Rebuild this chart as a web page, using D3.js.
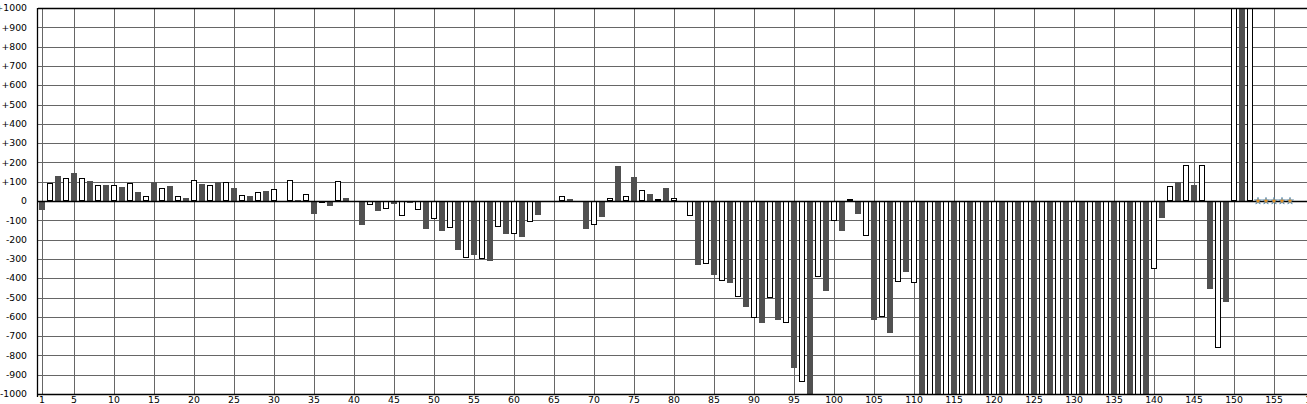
<!DOCTYPE html>
<html>
<head>
<meta charset="utf-8">
<script src="https://cdn.jsdelivr.net/npm/d3@7"></script>
<style>
  html, body { margin: 0; padding: 0; background: #fff; overflow: hidden; }
  svg { display: block; }
  text { font-family: "DejaVu Sans", Verdana, sans-serif; font-size: 9.3px; fill: #000; }
</style>
</head>
<body>
<svg id="chart" width="1307" height="404"></svg>
<script>
// ---- data ----
const values = [
  -45, 95, 131, 119, 147, 119, 104, 81, 83, 81,
  73, 93, 47, 24, 98, 66, 78, 24, 16, 107,
  88, 81, 98, 97, 67, 29, 26, 45, 52, 60,
  0, 107, 5, 35, -69, -11, -24, 102, 16, -5,
  -123, -22, -50, -43, -14, -79, -9, -48, -143, -95,
  -154, -142, -252, -297, -278, -302, -309, -136, -169, -173,
  -185, -111, -71, 0, -7, 24, 10, 4, -143, -126,
  -81, 14, 181, 24, 124, 55, 36, 9, 67, 14,
  0, -79, -330, -328, -382, -416, -423, -499, -547, -608,
  -630, -504, -615, -634, -864, -940, -1100, -394, -465, -105,
  -154, 9, -66, -183, -615, -603, -682, -421, -366, -427,
  -1100, -1100, -1100, -1100, -1100, -1100, -1100, -1100, -1100, -1100,
  -1100, -1100, -1100, -1100, -1100, -1100, -1100, -1100, -1100, -1100,
  -1100, -1100, -1100, -1100, -1100, -1100, -1100, -1100, -1100, -354,
  -86, 76, 97, 185, 81, 185, -454, -763, -522, 1100,
  1100, 1100
];
const categories = values.map((v, i) => i + 1);
const markerCats = [153, 154, 155, 156, 157];
const xTicks = [1, 5, 10, 15, 20, 25, 30, 35, 40, 45, 50, 55, 60, 65, 70, 75, 80,
  85, 90, 95, 100, 105, 110, 115, 120, 125, 130, 135, 140, 145, 150, 155, 160];
const yTicks = [1000, 900, 800, 700, 600, 500, 400, 300, 200, 100, 0,
  -100, -200, -300, -400, -500, -600, -700, -800, -900, -1000];
const yTickLabels = ["+1000", "+900", "+800", "+700", "+600", "+500", "+400", "+300", "+200", "+100", "0",
  "-100", "-200", "-300", "-400", "-500", "-600", "-700", "-800", "-900", "-1000"];

// ---- layout ----
const svg = d3.select("#chart");
const plotLeft = 38, plotTop = 8, plotBottom = 394, plotRight = 1318;

const x = d3.scaleLinear().domain([0.5, 160.5]).range([plotLeft, plotRight]);
const y = d3.scaleLinear().domain([-1000, 1000]).range([plotBottom, plotTop]);
const crisp = v => Math.round(v) + 0.5;

svg.append("defs").append("clipPath").attr("id", "plotClip")
  .append("rect")
  .attr("x", plotLeft).attr("y", plotTop)
  .attr("width", plotRight - plotLeft).attr("height", plotBottom - plotTop);

// grid
const grid = svg.append("g").attr("stroke", "#666").attr("stroke-width", 1);
grid.selectAll("line.h").data(yTicks).join("line")
  .attr("class", "h")
  .attr("x1", plotLeft).attr("x2", plotRight)
  .attr("y1", d => crisp(y(d))).attr("y2", d => crisp(y(d)));
grid.selectAll("line.v").data(xTicks).join("line")
  .attr("class", "v")
  .attr("y1", plotTop).attr("y2", plotBottom)
  .attr("x1", d => crisp(x(d))).attr("x2", d => crisp(x(d)));

// bars
const barW = 6;
const bars = svg.append("g").attr("clip-path", "url(#plotClip)");
const data = categories.map((c, i) => ({ c, v: values[i] }));

bars.selectAll("rect.dark").data(data.filter(d => d.c % 2 === 1)).join("rect")
  .attr("class", "dark")
  .attr("x", d => Math.round(x(d.c) - barW / 2))
  .attr("width", barW)
  .attr("y", d => Math.round(y(Math.max(0, d.v))))
  .attr("height", d => Math.abs(Math.round(y(d.v)) - Math.round(y(0))))
  .attr("fill", "#505050");

bars.selectAll("rect.light").data(data.filter(d => d.c % 2 === 0)).join("rect")
  .attr("class", "light")
  .attr("x", d => Math.round(x(d.c) - barW / 2) + 0.5)
  .attr("width", barW - 1)
  .attr("y", d => Math.round(y(Math.max(0, d.v))) + 0.5)
  .attr("height", d => Math.max(0, Math.abs(Math.round(y(d.v)) - Math.round(y(0))) - 1))
  .attr("fill", "#fff")
  .attr("stroke", "#000")
  .attr("stroke-width", 1);

// zero line
svg.append("line")
  .attr("x1", plotLeft).attr("x2", plotRight)
  .attr("y1", crisp(y(0))).attr("y2", crisp(y(0)))
  .attr("stroke", "#000").attr("stroke-width", 1.3);

// markers for zero-value trailing categories
svg.append("g").selectAll("path").data(markerCats).join("path")
  .attr("transform", d => `translate(${x(d)},${y(0)})`)
  .attr("d", d3.symbol().type(d3.symbolStar).size(16))
  .attr("fill", "#e8901e")
  .attr("stroke", "#3b86c6")
  .attr("stroke-width", 0.6);

// frame
const frame = svg.append("g").attr("stroke", "#000").attr("stroke-width", 1.3);
frame.append("line").attr("x1", plotLeft).attr("x2", plotRight)
  .attr("y1", plotTop + 0.5).attr("y2", plotTop + 0.5);
frame.append("line").attr("x1", plotLeft).attr("x2", plotRight)
  .attr("y1", plotBottom + 0.5).attr("y2", plotBottom + 0.5);
frame.append("line").attr("x1", plotLeft - 0.5).attr("x2", plotLeft - 0.5)
  .attr("y1", plotTop).attr("y2", plotBottom + 3);

// y labels
svg.append("g").selectAll("text").data(yTicks).join("text")
  .attr("x", 27)
  .attr("y", d => y(d))
  .attr("dy", "0.35em")
  .attr("text-anchor", "end")
  .text((d, i) => yTickLabels[i]);

// x labels
svg.append("g").selectAll("text").data(xTicks).join("text")
  .attr("x", d => x(d))
  .attr("y", plotBottom + 9)
  .attr("text-anchor", "middle")
  .text(d => d);
</script>
</body>
</html>
